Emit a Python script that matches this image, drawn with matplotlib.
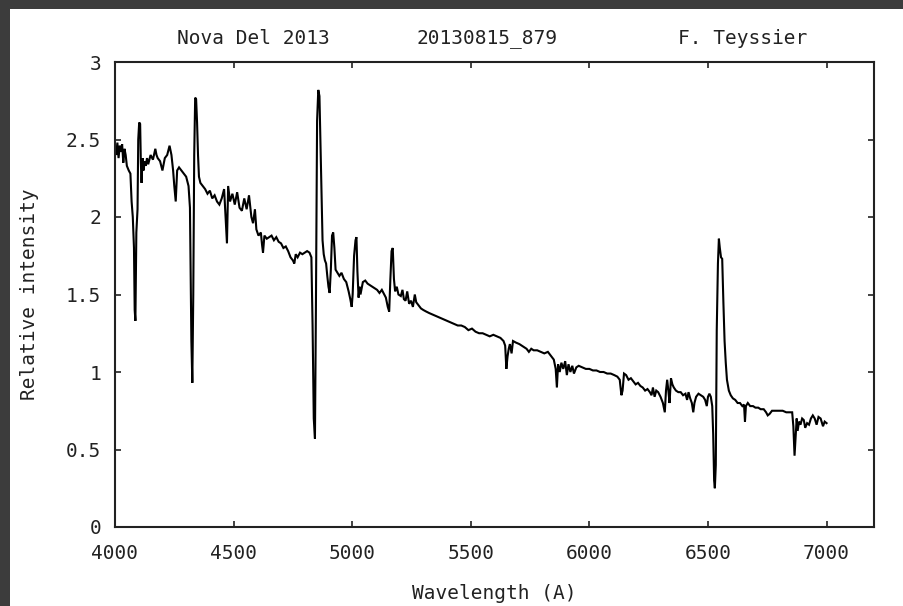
import matplotlib
matplotlib.use("Agg")
import matplotlib.pyplot as plt
from matplotlib.patches import Rectangle

# Spectrum of Nova Del 2013 (wavelength in Angstrom, relative intensity)
wavelength = [
    4000, 4005, 4010, 4015, 4020, 4025, 4030, 4035, 4040, 4045, 4050, 4058, 4065, 4070, 4075,
    4080, 4083, 4086, 4090, 4095, 4098, 4102, 4106, 4109, 4112, 4116, 4120, 4125, 4130, 4135,
    4140, 4150, 4160, 4170, 4175, 4180, 4190, 4200, 4210, 4220, 4230, 4238, 4245, 4250, 4256,
    4262, 4270, 4280, 4290, 4300, 4310, 4316, 4322, 4326, 4330, 4334, 4338, 4342, 4346, 4350,
    4354, 4360, 4370, 4380, 4390, 4400, 4410, 4420, 4430, 4440, 4450, 4460, 4466, 4472, 4477,
    4485, 4495, 4505, 4515, 4525, 4535, 4545, 4555, 4565, 4575, 4582, 4590, 4596, 4605, 4615,
    4620, 4624, 4630, 4640, 4650, 4660, 4670, 4680, 4690, 4700, 4710, 4720, 4730, 4740, 4750,
    4756, 4762, 4770, 4780, 4790, 4800, 4810, 4820, 4828, 4833, 4838, 4843, 4847, 4852, 4857,
    4862, 4866, 4870, 4875, 4880, 4885, 4890, 4895, 4900, 4905, 4910, 4915, 4920, 4925, 4930,
    4938, 4946, 4955, 4965, 4975, 4985, 4992, 4998, 5002, 5008, 5014, 5018, 5022, 5027, 5031,
    5035, 5045, 5055, 5065, 5075, 5085, 5095, 5105, 5115, 5125, 5135, 5142, 5150, 5156, 5161,
    5166, 5171, 5176, 5181, 5188, 5195, 5205, 5212, 5218, 5225, 5232, 5240, 5248, 5256, 5264,
    5270, 5280, 5290, 5300, 5312, 5325, 5340, 5355, 5370, 5385, 5400, 5415, 5430, 5445, 5460,
    5475, 5490, 5505, 5520, 5535, 5550, 5565, 5580, 5595, 5610, 5625, 5638, 5645, 5650, 5655,
    5660, 5665, 5672, 5678, 5690, 5705, 5715, 5725, 5735, 5745, 5755, 5765, 5780, 5795, 5810,
    5825, 5840, 5850, 5858, 5863, 5868, 5875, 5882, 5890, 5898, 5905, 5912, 5920, 5928, 5935,
    5945, 5955, 5970, 5985, 6000, 6015, 6030, 6045, 6060, 6075, 6090, 6105, 6118, 6128, 6135,
    6140, 6146, 6155, 6165, 6175, 6185, 6195, 6205, 6215, 6225, 6235, 6245, 6255, 6262, 6268,
    6275, 6282, 6290, 6300, 6310, 6318, 6323, 6328, 6333, 6338, 6344, 6350, 6356, 6365, 6375,
    6385, 6395, 6405, 6412, 6418, 6425, 6432, 6438, 6443, 6450, 6460, 6470, 6480, 6488, 6495,
    6500, 6506, 6512, 6518, 6522, 6526, 6529, 6533, 6537, 6542, 6546, 6550, 6555, 6560, 6565,
    6570, 6575, 6580, 6588, 6596, 6605, 6615, 6625, 6635, 6645, 6652, 6656, 6660, 6668, 6678,
    6690, 6700, 6712, 6722, 6735, 6745, 6752, 6760, 6770, 6785, 6800, 6815, 6830, 6845, 6855,
    6860, 6865, 6870, 6874, 6878, 6884, 6890, 6897, 6904, 6910, 6918, 6926, 6934, 6942, 6950,
    6958, 6966, 6975, 6985, 6992, 7000,
]
intensity = [
    2.45, 2.40, 2.48, 2.38, 2.46, 2.42, 2.47, 2.35, 2.44, 2.40, 2.33, 2.30, 2.28, 2.10, 2.00,
    1.80, 1.40, 1.33, 1.90, 2.05, 2.50, 2.61, 2.60, 2.35, 2.22, 2.38, 2.30, 2.36, 2.33, 2.38,
    2.34, 2.40, 2.37, 2.44, 2.40, 2.38, 2.36, 2.30, 2.38, 2.40, 2.46, 2.40, 2.30, 2.20, 2.10,
    2.30, 2.32, 2.30, 2.28, 2.26, 2.20, 2.06, 1.20, 0.93, 1.50, 2.40, 2.77, 2.76, 2.61, 2.40,
    2.26, 2.22, 2.20, 2.18, 2.15, 2.17, 2.12, 2.14, 2.10, 2.08, 2.12, 2.18, 2.00, 1.83, 2.20,
    2.10, 2.15, 2.08, 2.16, 2.06, 2.04, 2.12, 2.05, 2.14, 2.00, 1.96, 2.05, 1.92, 1.88, 1.90,
    1.82, 1.77, 1.88, 1.86, 1.87, 1.88, 1.85, 1.87, 1.84, 1.83, 1.80, 1.81, 1.78, 1.74, 1.72,
    1.70, 1.76, 1.74, 1.77, 1.76, 1.77, 1.78, 1.77, 1.74, 1.30, 0.70, 0.57, 1.40, 2.62, 2.82,
    2.78, 2.50, 2.25, 1.85, 1.76, 1.72, 1.70, 1.62, 1.55, 1.51, 1.66, 1.88, 1.90, 1.80, 1.66,
    1.64, 1.62, 1.64, 1.60, 1.58, 1.52, 1.47, 1.42, 1.50, 1.75, 1.85, 1.87, 1.65, 1.48, 1.55,
    1.50, 1.58, 1.59, 1.57, 1.56, 1.55, 1.54, 1.53, 1.51, 1.53, 1.50, 1.48, 1.42, 1.39, 1.60,
    1.78, 1.80, 1.60, 1.52, 1.55, 1.50, 1.49, 1.53, 1.47, 1.46, 1.52, 1.44, 1.46, 1.42, 1.50,
    1.45, 1.43, 1.41, 1.40, 1.39, 1.38, 1.37, 1.36, 1.35, 1.34, 1.33, 1.32, 1.31, 1.30, 1.30,
    1.29, 1.27, 1.28, 1.26, 1.25, 1.25, 1.24, 1.23, 1.24, 1.23, 1.22, 1.20, 1.17, 1.02, 1.10,
    1.15, 1.18, 1.12, 1.20, 1.19, 1.18, 1.17, 1.16, 1.15, 1.13, 1.15, 1.14, 1.14, 1.13, 1.12,
    1.13, 1.10, 1.08, 1.02, 0.90, 1.05, 1.00, 1.06, 1.02, 1.07, 0.98, 1.05, 1.00, 1.04, 0.99,
    1.03, 1.04, 1.03, 1.02, 1.02, 1.01, 1.01, 1.00, 1.00, 0.99, 0.99, 0.98, 0.97, 0.95, 0.85,
    0.88, 0.99, 0.98, 0.95, 0.96, 0.94, 0.92, 0.93, 0.91, 0.90, 0.88, 0.89, 0.87, 0.85, 0.90,
    0.84, 0.88, 0.87, 0.84, 0.80, 0.74, 0.88, 0.95, 0.88, 0.80, 0.96, 0.92, 0.90, 0.88, 0.87,
    0.87, 0.85, 0.86, 0.82, 0.87, 0.83, 0.80, 0.74, 0.80, 0.84, 0.86, 0.85, 0.84, 0.82, 0.78,
    0.84, 0.86, 0.84, 0.78, 0.60, 0.30, 0.25, 0.40, 1.27, 1.70, 1.86, 1.80, 1.74, 1.73, 1.45,
    1.20, 1.06, 0.95, 0.88, 0.85, 0.83, 0.82, 0.80, 0.80, 0.78, 0.79, 0.68, 0.78, 0.80, 0.78,
    0.78, 0.77, 0.77, 0.76, 0.76, 0.74, 0.72, 0.73, 0.75, 0.75, 0.75, 0.75, 0.74, 0.74, 0.74,
    0.65, 0.46, 0.60, 0.70, 0.62, 0.68, 0.66, 0.70, 0.69, 0.64, 0.67, 0.66, 0.70, 0.72, 0.70,
    0.66, 0.71, 0.70, 0.65, 0.68, 0.67,
]

x_ticks = [4000, 4500, 5000, 5500, 6000, 6500, 7000]
y_ticks = [0, 0.5, 1, 1.5, 2, 2.5, 3]
y_tick_labels = ["0", "0.5", "1", "1.5", "2", "2.5", "3"]
header = ["Nova Del 2013", "20130815_879", "F. Teyssier"]

MONO = ["DejaVu Sans Mono"]
FS = 14
INK = "#222222"

W, H = 904, 606
fig = plt.figure(figsize=(W / 100, H / 100), dpi=100, facecolor="white")

# dark frame strips on the left and top edges
fig.patches.append(Rectangle((0, 0), 10 / W, 1, transform=fig.transFigure,
                             facecolor="#3c3c3c", edgecolor="none", zorder=0))
fig.patches.append(Rectangle((0, 1 - 9 / H), 1, 9 / H, transform=fig.transFigure,
                             facecolor="#3c3c3c", edgecolor="none", zorder=0))

left, right, top, bottom = 115, 874, 62, 527
ax = fig.add_axes([left / W, (H - bottom) / H, (right - left) / W, (bottom - top) / H])

ax.plot(wavelength, intensity, color="black", linewidth=1.5, solid_joinstyle="miter")

ax.set_xlim(4000, 7200)
ax.set_ylim(0, 3)
ax.set_xticks(x_ticks)
ax.set_xticklabels([str(v) for v in x_ticks], family=MONO, fontsize=FS, color=INK)
ax.set_yticks(y_ticks)
ax.set_yticklabels(y_tick_labels, family=MONO, fontsize=FS, color=INK)
ax.tick_params(direction="in", length=4.5, width=1.2, color=INK,
               top=True, right=True)
ax.tick_params(axis="x", pad=12.5)
ax.tick_params(axis="y", pad=10)
for sp in ax.spines.values():
    sp.set_linewidth(1.5)
    sp.set_color(INK)

ax.set_xlabel("Wavelength (A)", family=MONO, fontsize=FS, color=INK, labelpad=15)
ax.set_ylabel("Relative intensity", family=MONO, fontsize=FS, color=INK, labelpad=19)

for txt, xc in zip(header, [253, 487, 743]):
    fig.text(xc / W, 1 - 39 / H, txt, family=MONO, fontsize=FS, color=INK,
             ha="center", va="center")

fig.savefig("out.png", dpi=100, facecolor="white")
